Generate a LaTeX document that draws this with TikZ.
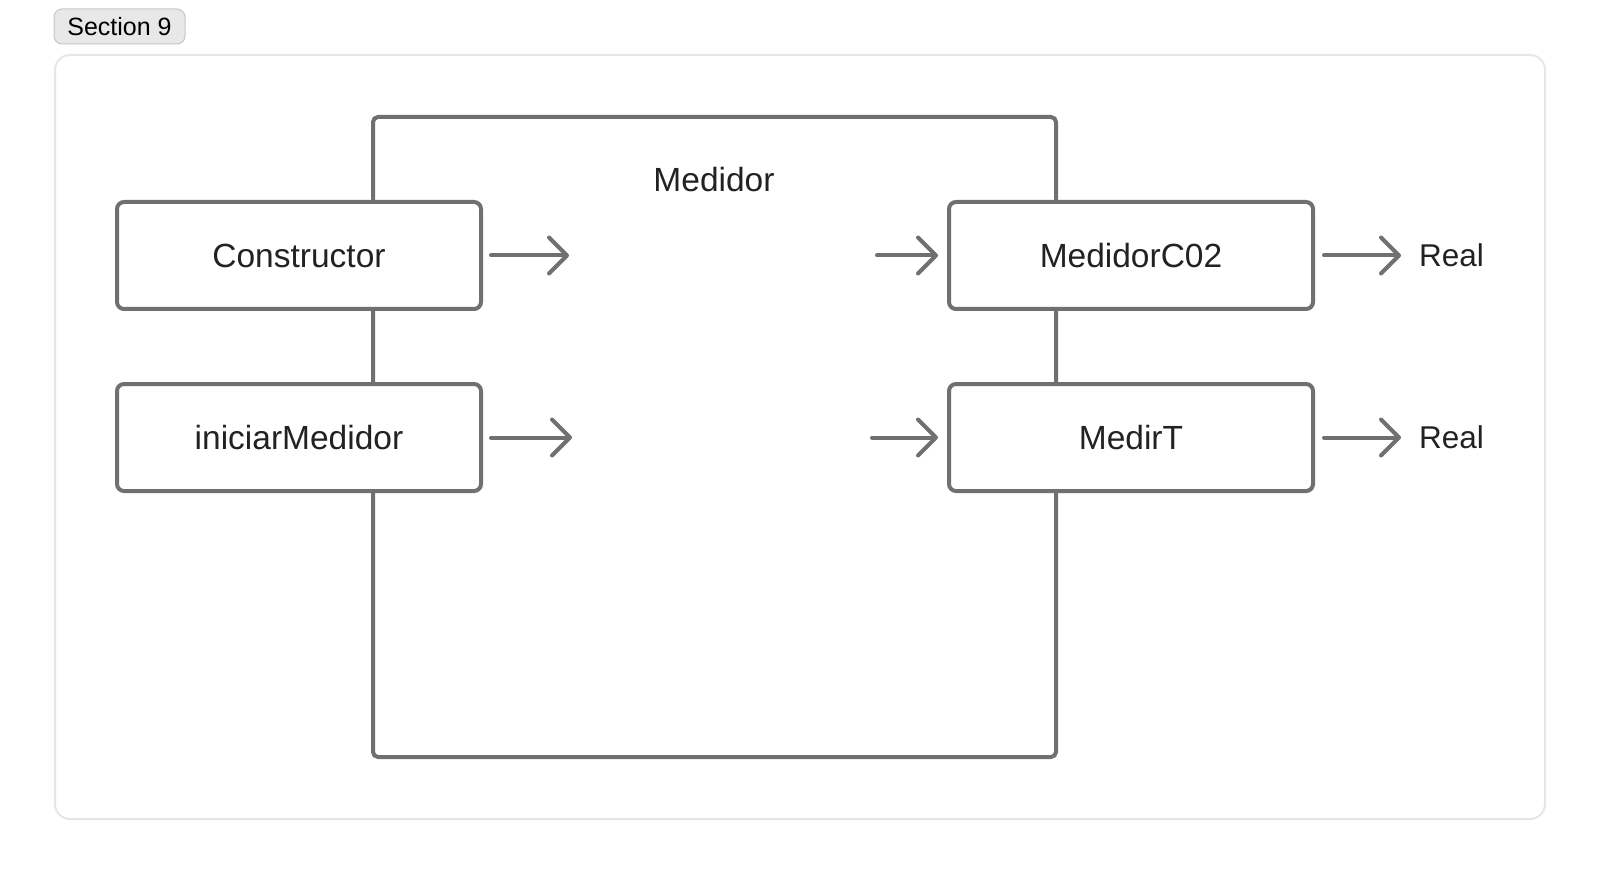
\documentclass[tikz,border=0pt]{standalone}
\usepackage{fontspec}
\setmainfont{Liberation Sans}
\usepackage{xcolor}
\usepackage{tikz}
\usetikzlibrary{arrows.meta, positioning}

\definecolor{trazo}{HTML}{707070}
\definecolor{texto}{HTML}{222222}
\definecolor{marco}{HTML}{E6E6E6}
\definecolor{pestana}{HTML}{E8E8E8}
\definecolor{bordepestana}{HTML}{C6C6C6}

\begin{document}
\begin{tikzpicture}[x=1pt, y=-1pt,
        caja/.style={rectangle, draw=trazo, fill=white, line width=4pt, rounded corners=7pt, minimum width=364pt, minimum height=107pt, inner sep=0pt, text=texto, font=\fontsize{33.5}{40}\selectfont},
        bloque/.style={rectangle, draw=trazo, line width=4pt, rounded corners=5pt, minimum width=683pt, minimum height=640pt, inner sep=0pt},
        etiqueta/.style={text=texto, font=\fontsize{33.5}{40}\selectfont, inner sep=3pt},
        flecha/.style={draw=trazo, line width=4pt, line cap=round, -{Straight Barb[length=18pt, width=36pt, round]}}
    ]
        \useasboundingbox (0,0) rectangle (1600,874);

        % Outer frame and section tab
        \node[rectangle, draw=marco, line width=2pt, rounded corners=15pt, minimum width=1490pt, minimum height=764pt] (frame) at (800,437) {};
        \node[rectangle, draw=bordepestana, fill=pestana, line width=1pt, rounded corners=8pt, minimum width=131pt, minimum height=35pt, text=black, font=\fontsize{25}{30}\selectfont] (section) at (119.5,26.5) {Section 9};

        % Medidor block
        \node[bloque] (medidor) at (714.5,437) {};
        \node[etiqueta] (titulo) at (714,180) {Medidor};

        % Inputs
        \node[caja] (constructor) at (299,255.5) {Constructor};
        \node[caja] (iniciar) at (299,437.5) {iniciarMedidor};

        % Outputs
        \node[caja] (medidorco2) at (1131,255.5) {MedidorC02};
        \node[caja] (medirt) at (1131,437.5) {MedirT};

        \node[etiqueta, anchor=west, font=\fontsize{31.5}{38}\selectfont] (real1) at (1416,255.5) {Real};
        \node[etiqueta, anchor=west, font=\fontsize{31.5}{38}\selectfont] (real2) at (1416,437.5) {Real};

        % Free arrow ends
        \coordinate (ctorout) at (569,255.5);
        \coordinate (iniout) at (572,437.5);
        \coordinate (co2in) at (877,255.5);
        \coordinate (medin) at (872,437.5);

        % Arrows
        \draw[flecha, shorten <=8pt] (constructor) -- (ctorout);
        \draw[flecha, shorten <=8pt] (iniciar) -- (iniout);
        \draw[flecha, shorten >=9pt] (co2in) -- (medidorco2);
        \draw[flecha, shorten >=9pt] (medin) -- (medirt);
        \draw[flecha, shorten <=9pt, shorten >=15pt] (medidorco2) -- (real1);
        \draw[flecha, shorten <=9pt, shorten >=15pt] (medirt) -- (real2);

    \end{tikzpicture}
\end{document}
